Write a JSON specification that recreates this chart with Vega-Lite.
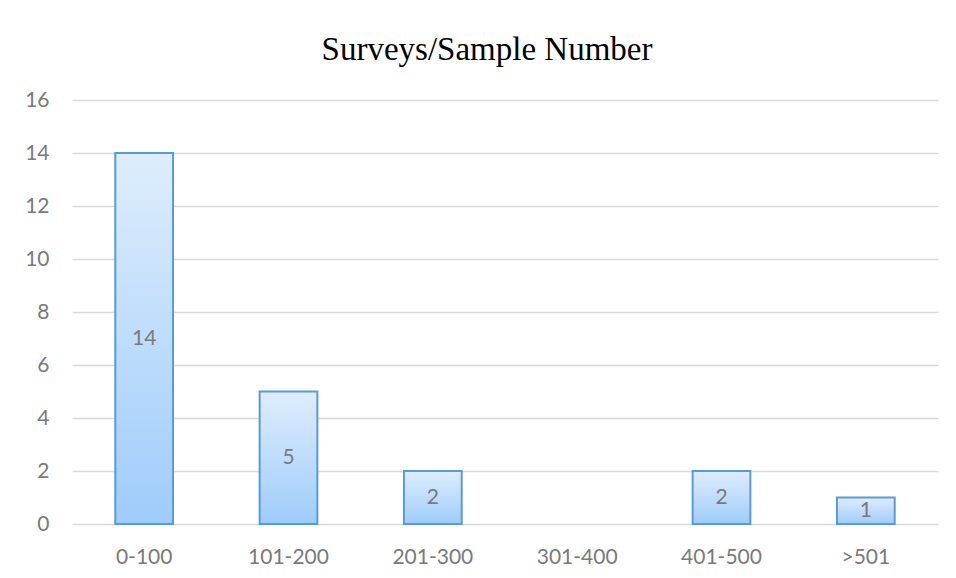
{
  "$schema": "https://vega.github.io/schema/vega-lite/v6.json",
  "width": 866,
  "height": 424,
  "autosize": "none",
  "padding": {"left": 72, "top": 100, "right": 18, "bottom": 54},
  "background": "white",
  "title": {
    "text": "Surveys/Sample Number",
    "font": "Liberation Serif",
    "fontSize": 33,
    "fontWeight": "normal",
    "color": "#000000",
    "baseline": "alphabetic",
    "offset": -4,
    "dx": -18
  },
  "data": {
    "values": [
      {"range": "0-100", "count": 14},
      {"range": "101-200", "count": 5},
      {"range": "201-300", "count": 2},
      {"range": "301-400", "count": 0},
      {"range": "401-500", "count": 2},
      {"range": ">501", "count": 1}
    ]
  },
  "transform": [{"filter": "datum.count > 0"}],
  "encoding": {
    "x": {
      "field": "range",
      "type": "nominal",
      "sort": null,
      "scale": {
        "domain": ["0-100", "101-200", "201-300", "301-400", "401-500", ">501"],
        "paddingInner": 0.6,
        "paddingOuter": 0.3
      },
      "axis": {
        "title": null,
        "labelAngle": 0,
        "labelFont": "Lato",
        "labelFontSize": 21,
        "labelColor": "#7a7a7a",
        "labelPadding": 22,
        "ticks": false,
        "domain": false,
        "grid": false
      }
    }
  },
  "layer": [
    {
      "mark": {
        "type": "bar",
        "stroke": "#5b9bd5",
        "strokeWidth": 2,
        "fill": {
          "gradient": "linear",
          "x1": 0, "y1": 0, "x2": 0, "y2": 1,
          "stops": [
            {"offset": 0, "color": "#deedfd"},
            {"offset": 1, "color": "#9fccfb"}
          ]
        }
      },
      "encoding": {
        "y": {
          "field": "count",
          "type": "quantitative",
          "scale": {"domain": [0, 16]},
          "axis": {
            "title": null,
            "values": [0, 2, 4, 6, 8, 10, 12, 14, 16],
            "labelFont": "Lato",
            "labelFontSize": 21,
            "labelColor": "#7a7a7a",
            "labelPadding": 23,
            "ticks": false,
            "domain": false,
            "grid": true,
            "gridColor": "#d9d9d9",
            "gridWidth": 1.5
          }
        }
      }
    },
    {
      "mark": {
        "type": "text",
        "font": "Lato",
        "fontSize": 21,
        "color": "#7a7a7a",
        "baseline": "middle",
        "align": "center"
      },
      "encoding": {
        "y": {"field": "count", "type": "quantitative", "stack": "zero", "bandPosition": 0.5},
        "text": {"field": "count", "type": "quantitative"}
      }
    }
  ],
  "config": {
    "view": {"stroke": null}
  }
}
